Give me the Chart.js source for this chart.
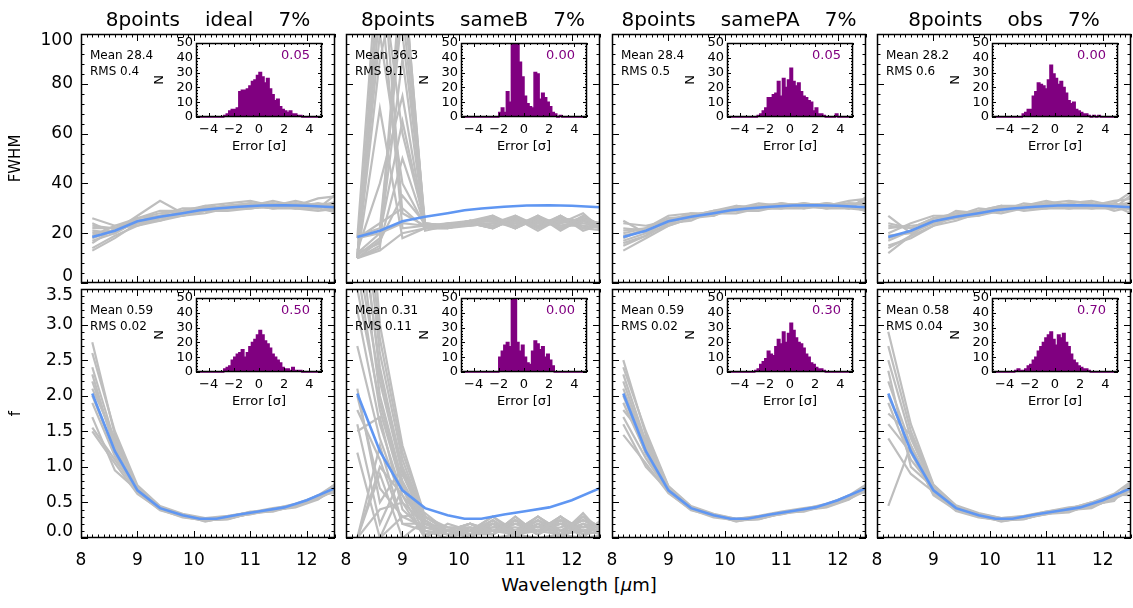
<!DOCTYPE html>
<html>
<head>
<meta charset="utf-8">
<script src="https://cdn.jsdelivr.net/npm/chart.js@4/dist/chart.umd.min.js"></script>
<style>
body { margin: 0; background: #fff; }
#fig { position: relative; width: 1133px; height: 608px; overflow: hidden; font-family: "DejaVu Sans", sans-serif; }
#fig canvas { position: absolute; }
.t { position: absolute; white-space: pre; color: #000; }
</style>
</head>
<body>
<div id="fig"></div>
<script>
// ---- data ----
const wave = [8.2, 8.6, 9.0, 9.4, 9.8, 10.2, 10.6, 11.0, 11.4, 11.8, 12.2, 12.6];
const modelWave = [8.2, 8.6, 9.0, 9.4, 9.8, 10.1, 10.4, 10.8, 11.2, 11.6, 12.0, 12.5];
const modelFwhm = [18.5, 21, 24.8, 26.6, 28, 29.2, 29.9, 30.6, 31.1, 31.2, 31, 30.4];
const modelF = [2.03, 1.22, 0.67, 0.42, 0.32, 0.27, 0.27, 0.33, 0.38, 0.43, 0.53, 0.70];

const xTickVals = [8, 9, 10, 11, 12];
const fwhmTickVals = [0, 20, 40, 60, 80, 100];
const fTickVals = [0, 0.5, 1.0, 1.5, 2.0, 2.5, 3.0, 3.5];
const fTickText = ['0.0', '0.5', '1.0', '1.5', '2.0', '2.5', '3.0', '3.5'];
const errTickVals = [-4, -2, 0, 2, 4];
const nTickVals = [0, 10, 20, 30, 40, 50];

const panelNames = ['ideal', 'sameB', 'samePA', 'obs'];
const fwhmMean = ['28.4', '36.3', '28.4', '28.2'];
const fwhmRms = ['0.4', '9.1', '0.5', '0.6'];
const fwhmP = ['0.05', '0.00', '0.05', '0.00'];
const fMean = ['0.59', '0.31', '0.59', '0.58'];
const fRms = ['0.02', '0.11', '0.02', '0.04'];
const fP = ['0.50', '0.00', '0.30', '0.70'];

// FWHM fits (grey), one row per realisation
const fwhmIdeal = [
  [14, 19, 23, 26, 27, 29, 30, 30, 31, 30, 30, 28],
  [22, 22, 26, 28, 29, 30, 31, 32, 31, 32, 31, 31],
  [17, 20, 25, 26, 28, 29, 31, 31, 30, 31, 32, 30],
  [26, 23, 24, 27, 28, 30, 30, 31, 33, 31, 30, 33],
  [20, 21, 27, 33, 28, 31, 30, 32, 31, 33, 31, 29],
  [16, 22, 23, 25, 27, 29, 29, 30, 31, 30, 31, 32],
  [24, 20, 25, 26, 29, 30, 31, 31, 32, 31, 34, 35],
  [19, 23, 26, 27, 27, 28, 30, 31, 30, 30, 29, 30],
  [13, 18, 24, 26, 28, 30, 30, 30, 31, 32, 31, 28],
  [21, 20, 26, 29, 29, 31, 32, 33, 31, 31, 30, 37],
  [18, 21, 24, 25, 28, 29, 30, 31, 32, 30, 32, 31],
  [23, 22, 25, 27, 30, 30, 31, 32, 30, 31, 31, 33]
];
const fwhmSameB = [
  [10, 14, 120, 24, 23, 24, 25, 22, 27, 22, 27, 22],
  [10, 120, 22, 23, 23, 24, 22, 27, 22, 27, 22, 24],
  [11, 18, 90, 22, 23, 25, 27, 22, 27, 21, 26, 21],
  [18, 20, 24, 23, 23, 24, 23, 26, 23, 26, 24, 23],
  [10, 130, 60, 24, 22, 24, 26, 23, 26, 23, 25, 22],
  [12, 16, 50, 23, 24, 25, 22, 26, 21, 26, 22, 21],
  [19, 22, 110, 22, 23, 23, 24, 24, 25, 24, 28, 20],
  [10, 70, 18, 22, 22, 24, 27, 23, 27, 23, 23, 22],
  [11, 100, 40, 23, 23, 25, 25, 25, 24, 26, 25, 23],
  [10, 15, 130, 21, 23, 24, 22, 26, 22, 27, 21, 24],
  [13, 40, 75, 22, 22, 23, 24, 27, 23, 24, 26, 21],
  [10, 17, 35, 24, 23, 24, 26, 22, 26, 22, 26, 23],
  [18, 140, 28, 23, 23, 25, 23, 25, 24, 25, 24, 22],
  [10, 13, 20, 22, 24, 24, 24, 23, 25, 23, 25, 24],
  [10, 110, 100, 24, 23, 24, 23, 26, 22, 26, 23, 22],
  [10, 90, 130, 22, 22, 25, 25, 24, 26, 24, 26, 23],
  [12, 20, 65, 23, 23, 24, 26, 22, 26, 22, 25, 21],
  [18, 24, 30, 22, 23, 24, 22, 26, 23, 27, 22, 24]
];
const fwhmSamePA = [
  [15, 19, 24, 27, 28, 30, 30, 31, 31, 31, 30, 29],
  [22, 21, 25, 27, 29, 30, 31, 32, 31, 32, 31, 33],
  [18, 22, 26, 26, 28, 29, 31, 31, 32, 30, 32, 31],
  [25, 20, 23, 26, 28, 30, 30, 30, 31, 31, 30, 35],
  [20, 22, 27, 28, 27, 31, 30, 32, 30, 32, 31, 30],
  [16, 19, 24, 25, 29, 29, 29, 31, 31, 30, 31, 28],
  [24, 23, 25, 27, 28, 30, 32, 31, 32, 31, 33, 34],
  [19, 21, 25, 28, 28, 28, 30, 30, 30, 31, 30, 31],
  [13, 18, 23, 26, 27, 30, 31, 31, 31, 32, 31, 29],
  [21, 22, 26, 27, 29, 31, 30, 32, 31, 30, 30, 36],
  [17, 20, 25, 26, 28, 30, 31, 30, 32, 31, 32, 32]
];
const fwhmObs = [
  [14, 19, 23, 27, 28, 29, 30, 31, 30, 30, 31, 29],
  [23, 22, 26, 27, 29, 31, 31, 32, 33, 32, 31, 32],
  [18, 21, 25, 26, 27, 29, 31, 30, 31, 31, 32, 30],
  [27, 20, 24, 29, 28, 30, 30, 32, 31, 30, 30, 37],
  [20, 24, 27, 27, 30, 29, 32, 31, 32, 33, 31, 27],
  [15, 18, 23, 25, 28, 31, 29, 30, 30, 31, 33, 34],
  [24, 22, 26, 28, 28, 30, 31, 33, 31, 32, 30, 32],
  [19, 20, 25, 26, 29, 28, 30, 30, 32, 30, 31, 29],
  [12, 19, 26, 27, 27, 30, 31, 31, 30, 31, 32, 38],
  [22, 23, 24, 28, 29, 31, 30, 32, 31, 32, 29, 31],
  [17, 21, 24, 26, 28, 30, 30, 31, 31, 31, 31, 33]
];

// f fits (grey)
const fIdeal = [
  [2.75, 1.45, 0.70, 0.44, 0.33, 0.27, 0.30, 0.36, 0.40, 0.47, 0.58, 0.75],
  [2.40, 1.35, 0.72, 0.42, 0.30, 0.25, 0.27, 0.35, 0.38, 0.45, 0.60, 0.80],
  [2.20, 1.30, 0.65, 0.40, 0.32, 0.24, 0.28, 0.34, 0.40, 0.44, 0.56, 0.70],
  [1.90, 1.15, 0.68, 0.43, 0.31, 0.26, 0.29, 0.37, 0.37, 0.46, 0.55, 0.72],
  [1.55, 1.10, 0.66, 0.41, 0.33, 0.23, 0.30, 0.33, 0.41, 0.48, 0.59, 0.68],
  [1.50, 1.05, 0.62, 0.40, 0.29, 0.25, 0.26, 0.35, 0.39, 0.43, 0.54, 0.78],
  [2.60, 1.50, 0.74, 0.45, 0.34, 0.28, 0.31, 0.36, 0.42, 0.46, 0.60, 0.65],
  [2.00, 1.20, 0.64, 0.39, 0.30, 0.24, 0.28, 0.34, 0.38, 0.47, 0.57, 0.82],
  [1.70, 0.95, 0.67, 0.42, 0.32, 0.26, 0.30, 0.36, 0.40, 0.45, 0.58, 0.70],
  [2.30, 1.25, 0.69, 0.43, 0.31, 0.25, 0.27, 0.35, 0.39, 0.44, 0.56, 0.74],
  [2.10, 1.40, 0.71, 0.41, 0.32, 0.26, 0.29, 0.35, 0.39, 0.46, 0.57, 0.72]
];
const fSameB = [
  [4.5, 2.0, 0.8, 0.2, 0.1, 0.05, 0.25, 0.05, 0.25, 0.05, 0.3, 0.05],
  [3.8, 1.8, 0.7, 0.15, 0.05, 0.1, 0.05, 0.3, 0.05, 0.3, 0.05, 0.25],
  [0.0, 1.3, 0.2, 0.1, 0.05, 0.1, 0.25, 0.05, 0.3, 0.1, 0.25, 0.1],
  [1.6, 0.2, 0.9, 0.3, 0.1, 0.2, 0.1, 0.25, 0.1, 0.3, 0.1, 0.2],
  [0.0, 0.9, 0.0, 0.25, 0.05, 0.05, 0.2, 0.1, 0.25, 0.05, 0.35, 0.0],
  [3.2, 1.6, 0.6, 0.2, 0.15, 0.15, 0.05, 0.25, 0.05, 0.25, 0.05, 0.1],
  [2.1, 0.5, 1.0, 0.1, 0.0, 0.0, 0.2, 0.0, 0.2, 0.0, 0.2, 0.0],
  [0.0, 0.4, 0.5, 0.0, 0.2, 0.1, 0.3, 0.1, 0.3, 0.1, 0.3, 0.1],
  [5.0, 2.3, 1.0, 0.3, 0.1, 0.2, 0.1, 0.2, 0.15, 0.2, 0.15, 0.2],
  [1.2, 0.0, 0.7, 0.05, 0.1, 0.05, 0.05, 0.25, 0.05, 0.25, 0.0, 0.3],
  [0.0, 1.0, 0.6, 0.0, 0.0, 0.1, 0.1, 0.1, 0.1, 0.3, 0.1, 0.2],
  [1.8, 1.1, 0.2, 0.2, 0.05, 0.05, 0.25, 0.05, 0.2, 0.05, 0.2, 0.05],
  [2.7, 1.4, 0.5, 0.2, 0.1, 0.1, 0.15, 0.15, 0.1, 0.15, 0.25, 0.15],
  [0.0, 0.0, 0.3, 0.15, 0.1, 0.0, 0.0, 0.05, 0.0, 0.05, 0.0, 0.05],
  [6.0, 2.8, 1.2, 0.3, 0.1, 0.1, 0.2, 0.05, 0.2, 0.1, 0.25, 0.1],
  [5.5, 2.6, 1.1, 0.25, 0.05, 0.15, 0.1, 0.25, 0.1, 0.2, 0.1, 0.2],
  [4.0, 2.2, 0.9, 0.2, 0.1, 0.05, 0.2, 0.1, 0.3, 0.05, 0.3, 0.05],
  [7.0, 3.0, 1.3, 0.3, 0.15, 0.1, 0.3, 0.05, 0.25, 0.1, 0.2, 0.15],
  [3.5, 1.9, 0.75, 0.15, 0.1, 0.2, 0.05, 0.3, 0.05, 0.3, 0.05, 0.3],
  [4.8, 2.4, 0.95, 0.25, 0.05, 0.1, 0.15, 0.2, 0.15, 0.25, 0.15, 0.2],
  [1.5, 1.7, 0.4, 0.1, 0.05, 0.05, 0.1, 0.05, 0.1, 0.05, 0.1, 0.05],
  [2.0, 0.7, 0.3, 0.35, 0.1, 0.2, 0.05, 0.2, 0.05, 0.2, 0.05, 0.3]
];
const fSamePA = [
  [2.50, 1.45, 0.72, 0.44, 0.33, 0.27, 0.30, 0.36, 0.40, 0.47, 0.60, 0.80],
  [2.30, 1.35, 0.70, 0.42, 0.31, 0.25, 0.28, 0.35, 0.39, 0.45, 0.57, 0.75],
  [2.10, 1.28, 0.66, 0.41, 0.32, 0.24, 0.27, 0.34, 0.40, 0.44, 0.55, 0.70],
  [1.90, 1.20, 0.68, 0.43, 0.30, 0.26, 0.29, 0.36, 0.37, 0.46, 0.58, 0.68],
  [1.70, 1.12, 0.65, 0.40, 0.33, 0.23, 0.30, 0.33, 0.41, 0.48, 0.59, 0.72],
  [1.45, 1.05, 0.63, 0.40, 0.29, 0.25, 0.26, 0.35, 0.39, 0.43, 0.54, 0.76],
  [2.40, 1.50, 0.73, 0.45, 0.34, 0.27, 0.31, 0.37, 0.42, 0.46, 0.60, 0.66],
  [2.00, 1.18, 0.64, 0.39, 0.31, 0.24, 0.28, 0.34, 0.38, 0.47, 0.56, 0.78],
  [1.60, 1.00, 0.66, 0.42, 0.32, 0.26, 0.30, 0.36, 0.40, 0.45, 0.58, 0.71],
  [2.20, 1.30, 0.69, 0.43, 0.31, 0.25, 0.27, 0.35, 0.39, 0.44, 0.57, 0.74],
  [1.80, 1.40, 0.70, 0.41, 0.32, 0.26, 0.29, 0.35, 0.39, 0.46, 0.58, 0.73]
];
const fObs = [
  [2.90, 1.60, 0.75, 0.45, 0.34, 0.28, 0.30, 0.37, 0.41, 0.50, 0.62, 0.85],
  [2.50, 1.40, 0.70, 0.42, 0.30, 0.25, 0.28, 0.35, 0.38, 0.45, 0.57, 0.75],
  [2.20, 1.30, 0.66, 0.40, 0.32, 0.24, 0.27, 0.34, 0.42, 0.44, 0.55, 0.70],
  [1.90, 1.10, 0.70, 0.43, 0.31, 0.26, 0.30, 0.36, 0.37, 0.47, 0.52, 0.90],
  [1.60, 1.20, 0.62, 0.41, 0.33, 0.23, 0.29, 0.33, 0.41, 0.50, 0.60, 0.68],
  [1.40, 0.90, 0.65, 0.38, 0.29, 0.25, 0.26, 0.36, 0.39, 0.42, 0.58, 0.78],
  [2.70, 1.50, 0.74, 0.46, 0.35, 0.28, 0.31, 0.37, 0.43, 0.46, 0.61, 0.60],
  [2.00, 1.25, 0.60, 0.39, 0.30, 0.24, 0.28, 0.34, 0.36, 0.48, 0.56, 0.82],
  [0.45, 1.30, 0.68, 0.42, 0.32, 0.26, 0.30, 0.36, 0.40, 0.45, 0.59, 0.72],
  [2.35, 1.00, 0.71, 0.44, 0.31, 0.25, 0.27, 0.35, 0.39, 0.44, 0.55, 0.74],
  [1.75, 1.45, 0.72, 0.41, 0.32, 0.26, 0.29, 0.35, 0.40, 0.46, 0.58, 0.70]
];

// error histograms, bin centres in sigma
const binCenters = [-4.9, -4.7, -4.5, -4.3, -4.1, -3.9, -3.7, -3.5, -3.3, -3.1,
  -2.9, -2.7, -2.5, -2.3, -2.1, -1.9, -1.7, -1.5, -1.3, -1.1,
  -0.9, -0.7, -0.5, -0.3, -0.1, 0.1, 0.3, 0.5, 0.7, 0.9,
  1.1, 1.3, 1.5, 1.7, 1.9, 2.1, 2.3, 2.5, 2.7, 2.9,
  3.1, 3.3, 3.5, 3.7, 3.9, 4.1, 4.3, 4.5, 4.7, 4.9];
const histFwhmIdeal = [0, 0, 0, 0, 0, 0, 0, 0, 0, 0, 0, 1, 2, 4, 5, 5, 6, 17, 18, 18,
  19, 21, 24, 25, 28, 30, 27, 23, 26, 19, 15, 11, 12, 7, 5, 4, 3, 4, 2, 2, 1, 1, 0, 0, 0, 0, 0, 0, 0, 0];
const histFwhmSameB = [0, 0, 0, 0, 0, 0, 0, 0, 0, 0, 0, 0, 0, 0, 0, 3, 6, 3, 17, 10,
  55, 60, 52, 37, 27, 14, 9, 7, 6, 30, 29, 12, 16, 13, 10, 7, 3, 2, 0, 1, 0, 0, 0, 0, 0, 0, 0, 0, 0, 0];
const histFwhmSamePA = [0, 0, 0, 0, 0, 0, 0, 0, 0, 0, 0, 0, 1, 2, 4, 6, 13, 13, 15, 16,
  24, 14, 26, 20, 25, 33, 24, 21, 23, 17, 14, 13, 11, 10, 4, 6, 2, 2, 1, 0, 0, 0, 0, 2, 0, 0, 0, 0, 0, 0];
const histFwhmObs = [0, 0, 0, 0, 0, 0, 0, 0, 0, 0, 0, 0, 2, 3, 5, 5, 14, 17, 23, 22,
  21, 19, 25, 35, 29, 26, 22, 24, 20, 16, 11, 9, 10, 5, 4, 3, 2, 2, 1, 0, 1, 0, 1, 0, 0, 0, 0, 0, 0, 0];
const histFIdeal = [0, 0, 0, 0, 0, 0, 0, 0, 0, 0, 0, 2, 3, 4, 8, 10, 12, 13, 15, 10,
  13, 17, 20, 22, 25, 28, 25, 21, 19, 16, 12, 10, 8, 6, 3, 2, 2, 1, 3, 1, 1, 1, 0, 0, 0, 0, 0, 0, 0, 0];
const histFSameB = [0, 0, 0, 0, 0, 0, 0, 0, 0, 0, 0, 0, 0, 0, 0, 10, 14, 18, 20, 17,
  55, 55, 20, 14, 18, 10, 6, 5, 14, 21, 19, 15, 17, 10, 12, 8, 4, 0, 0, 0, 0, 0, 0, 0, 0, 0, 0, 0, 0, 0];
const histFSamePA = [0, 0, 0, 0, 0, 0, 0, 0, 0, 0, 0, 1, 2, 5, 7, 9, 14, 12, 11, 17,
  22, 19, 27, 20, 26, 33, 28, 23, 20, 19, 16, 12, 10, 6, 5, 3, 2, 2, 1, 0, 0, 0, 0, 0, 0, 0, 0, 0, 0, 0];
const histFObs = [0, 0, 0, 0, 0, 0, 0, 0, 0, 1, 2, 1, 1, 2, 4, 5, 8, 10, 14, 17,
  20, 23, 25, 27, 22, 18, 25, 23, 26, 20, 17, 12, 8, 6, 4, 3, 2, 2, 1, 0, 0, 0, 0, 0, 0, 0, 0, 0, 0, 0];

// ---- layout ----
const FONT = '"DejaVu Sans", sans-serif';
const GRAY = '#bebebe', BLUE = '#5f96f2', PURPLE = '#800080';
const BOX_LEFT = [81, 346, 612, 877];
const ROW_TOP = [34, 289];
const BOX_W = 254, BOX_H = 249;
const fig = document.getElementById('fig');

// IDL-style box: frame plus inward major/minor ticks on all four sides
const boxTicks = {
  id: 'boxTicks',
  afterDraw(chart, args, o) {
    const {ctx, chartArea: a} = chart;
    const sx = chart.scales.x, sy = chart.scales.y;
    ctx.save();
    ctx.strokeStyle = '#000';
    ctx.lineWidth = 1;
    ctx.beginPath();
    const xTick = (v, len) => {
      const px = Math.round(sx.getPixelForValue(v)) + 0.5;
      ctx.moveTo(px, a.bottom); ctx.lineTo(px, a.bottom - len);
      ctx.moveTo(px, a.top); ctx.lineTo(px, a.top + len);
    };
    const yTick = (v, len) => {
      const py = Math.round(sy.getPixelForValue(v)) + 0.5;
      ctx.moveTo(a.left, py); ctx.lineTo(a.left + len, py);
      ctx.moveTo(a.right, py); ctx.lineTo(a.right - len, py);
    };
    let n = Math.round((sx.max - sx.min) / o.xMinor);
    for (let i = 0; i <= n; i++) xTick(sx.min + i * o.xMinor, o.minor);
    n = Math.round((sy.max - sy.min) / o.yMinor);
    for (let i = 0; i <= n; i++) yTick(sy.min + i * o.yMinor, o.minor);
    o.xMajor.forEach(v => xTick(v, o.major));
    o.yMajor.forEach(v => yTick(v, o.major));
    ctx.stroke();
    // frame
    ctx.lineWidth = 1.5;
    ctx.beginPath();
    const l = Math.round(a.left) + 0.5, r = Math.round(a.right) - 0.5;
    const t = Math.round(a.top) + 0.5, b = Math.round(a.bottom) - 0.5;
    ctx.moveTo(l, t); ctx.lineTo(r, t); ctx.lineTo(r, b); ctx.lineTo(l, b); ctx.closePath();
    ctx.stroke();
    if (o.yText) {
      ctx.fillStyle = '#000';
      ctx.font = '17px ' + FONT;
      ctx.textAlign = 'right';
      ctx.textBaseline = 'middle';
      o.yMajor.forEach((v, i) => {
        let py = sy.getPixelForValue(v);
        if (i === 0) py -= 6;
        if (i === o.yMajor.length - 1) py += 7;
        ctx.fillText(o.yText[i], a.left - 8, py);
      });
    }
    ctx.restore();
  }
};

function addCanvas(left, top, w, h) {
  const c = document.createElement('canvas');
  c.width = w; c.height = h;
  c.style.left = left + 'px'; c.style.top = top + 'px';
  c.style.width = w + 'px'; c.style.height = h + 'px';
  fig.appendChild(c);
  return c;
}

function addText(html, left, top, size, extra) {
  const d = document.createElement('div');
  d.className = 't';
  d.innerHTML = html;
  d.style.left = left + 'px';
  d.style.top = top + 'px';
  d.style.fontSize = size + 'px';
  d.style.lineHeight = Math.round(size * 1.2) + 'px';
  Object.assign(d.style, extra || {});
  fig.appendChild(d);
}

function mainChart(col, row, curves, cfg) {
  const padL = col === 0 ? 81 : 10;
  const padB = row === 1 ? 32 : 10;
  const c = addCanvas(BOX_LEFT[col] - padL, ROW_TOP[row] - 10, padL + BOX_W + 2, 10 + BOX_H + padB);
  const datasets = [{
    data: modelWave.map((w, i) => ({x: w, y: cfg.model[i]})),
    borderColor: BLUE, borderWidth: 2.6, clip: 0
  }];
  curves.forEach(cv => datasets.push({
    data: wave.map((w, i) => ({x: w, y: cv[i]})),
    borderColor: GRAY, borderWidth: 2.2, clip: 0
  }));
  new Chart(c, {
    type: 'line',
    data: {datasets},
    options: {
      responsive: false, animation: false, events: [],
      layout: {padding: {left: col === 0 ? 0 : 10, right: 2, top: 10, bottom: row === 1 ? 2 : 10}},
      elements: {point: {radius: 0}, line: {tension: 0}},
      plugins: {
        legend: {display: false}, tooltip: {enabled: false},
        boxTicks: {xMajor: xTickVals, xMinor: 0.1, yMajor: cfg.ticks, yMinor: cfg.minor,
          major: 7, minor: 3.5, yText: col === 0 ? cfg.text : null}
      },
      scales: {
        x: {
          type: 'linear', min: 8, max: 12.5, display: row === 1,
          grid: {display: false, drawTicks: false}, border: {display: false},
          afterBuildTicks: s => { s.ticks = xTickVals.map(v => ({value: v})); },
          afterFit: s => { s.height = row === 1 ? 30 : 0; s.paddingLeft = 0; s.paddingRight = 0; },
          ticks: {autoSkip: false, maxRotation: 0, padding: 12, color: '#000',
            font: {family: FONT, size: 17}, callback: v => String(v)}
        },
        y: {
          type: 'linear', min: cfg.min, max: cfg.max, display: col === 0,
          grid: {display: false, drawTicks: false}, border: {display: false},
          afterFit: s => { s.width = col === 0 ? 81 : 0; s.paddingTop = 0; s.paddingBottom = 0; },
          ticks: {display: false},
          title: {display: true, text: cfg.title, color: '#000', padding: {top: 7, bottom: 0},
            font: {family: FONT, size: 15}}
        }
      }
    },
    plugins: [boxTicks]
  });
}

function insetChart(col, row, counts) {
  const bl = BOX_LEFT[col] + 115, bt = ROW_TOP[row] + 9;
  const c = addCanvas(bl - 46, bt - 8, 46 + 126 + 6, 8 + 74 + 40);
  new Chart(c, {
    type: 'line',
    data: {datasets: [{
      data: binCenters.map((b, i) => ({x: b, y: counts[i]})),
      stepped: 'middle', fill: 'origin',
      backgroundColor: PURPLE, borderColor: PURPLE, borderWidth: 1.5,
      clip: {left: 0, top: 0, right: 0, bottom: 3}
    }]},
    options: {
      responsive: false, animation: false, events: [],
      layout: {padding: {left: 0, top: 8, right: 6, bottom: 0}},
      elements: {point: {radius: 0}},
      plugins: {
        legend: {display: false}, tooltip: {enabled: false},
        boxTicks: {xMajor: errTickVals, xMinor: 0.5, yMajor: nTickVals, yMinor: 2, major: 4, minor: 2}
      },
      scales: {
        x: {
          type: 'linear', min: -5, max: 5,
          grid: {display: false, drawTicks: false}, border: {display: false},
          afterBuildTicks: s => { s.ticks = errTickVals.map(v => ({value: v})); },
          afterFit: s => { s.height = 40; s.paddingLeft = 0; s.paddingRight = 0; },
          ticks: {autoSkip: false, maxRotation: 0, padding: 5, color: '#000',
            font: {family: FONT, size: 13}, callback: v => (v < 0 ? '\u2212' + Math.abs(v) : String(v))},
          title: {display: true, text: 'Error [\u03c3]', color: '#000', padding: {top: 0, bottom: 3},
            font: {family: FONT, size: 13}}
        },
        y: {
          type: 'linear', min: 0, max: 50,
          grid: {display: false, drawTicks: false}, border: {display: false},
          afterBuildTicks: s => { s.ticks = nTickVals.map(v => ({value: v})); },
          afterFit: s => { s.width = 46; s.paddingTop = 0; s.paddingBottom = 0; },
          ticks: {autoSkip: false, padding: 3, color: '#000', font: {family: FONT, size: 13}},
          title: {display: true, text: 'N', color: '#000', padding: {top: 2, bottom: 0},
            font: {family: FONT, size: 13}}
        }
      }
    },
    plugins: [boxTicks]
  });
}

const fwhmCurves = [fwhmIdeal, fwhmSameB, fwhmSamePA, fwhmObs];
const fCurves = [fIdeal, fSameB, fSamePA, fObs];
const fwhmHists = [histFwhmIdeal, histFwhmSameB, histFwhmSamePA, histFwhmObs];
const fHists = [histFIdeal, histFSameB, histFSamePA, histFObs];

for (let col = 0; col < 4; col++) {
  mainChart(col, 0, fwhmCurves[col], {model: modelFwhm, min: 0, max: 100, ticks: fwhmTickVals,
    minor: 4, text: fwhmTickVals.map(String), title: 'FWHM'});
  mainChart(col, 1, fCurves[col], {model: modelF, min: 0, max: 3.5, ticks: fTickVals,
    minor: 0.1, text: fTickText, title: 'f'});
}
for (let col = 0; col < 4; col++) {
  insetChart(col, 0, fwhmHists[col]);
  insetChart(col, 1, fHists[col]);
}

for (let col = 0; col < 4; col++) {
  const bl = BOX_LEFT[col];
  addText('8points   ' + panelNames[col] + '   7%', bl, 7, 20,
    {width: BOX_W + 'px', textAlign: 'center', wordSpacing: '2px'});
  const stats = [[fwhmMean, fwhmRms, fwhmP], [fMean, fRms, fP]];
  for (let row = 0; row < 2; row++) {
    const bt = ROW_TOP[row];
    const [m, r, p] = stats[row];
    addText('Mean ' + m[col], bl + 9, bt + 14, 12);
    addText('RMS ' + r[col], bl + 9, bt + 30, 12);
    addText(p[col], bl + 115, bt + 9 + 4, 13,
      {width: '114px', textAlign: 'right', color: PURPLE});
  }
}
addText('Wavelength [<i>\u03bc</i>m]', 479, 574, 18, {width: '200px', textAlign: 'center'});
</script>
</body>
</html>
